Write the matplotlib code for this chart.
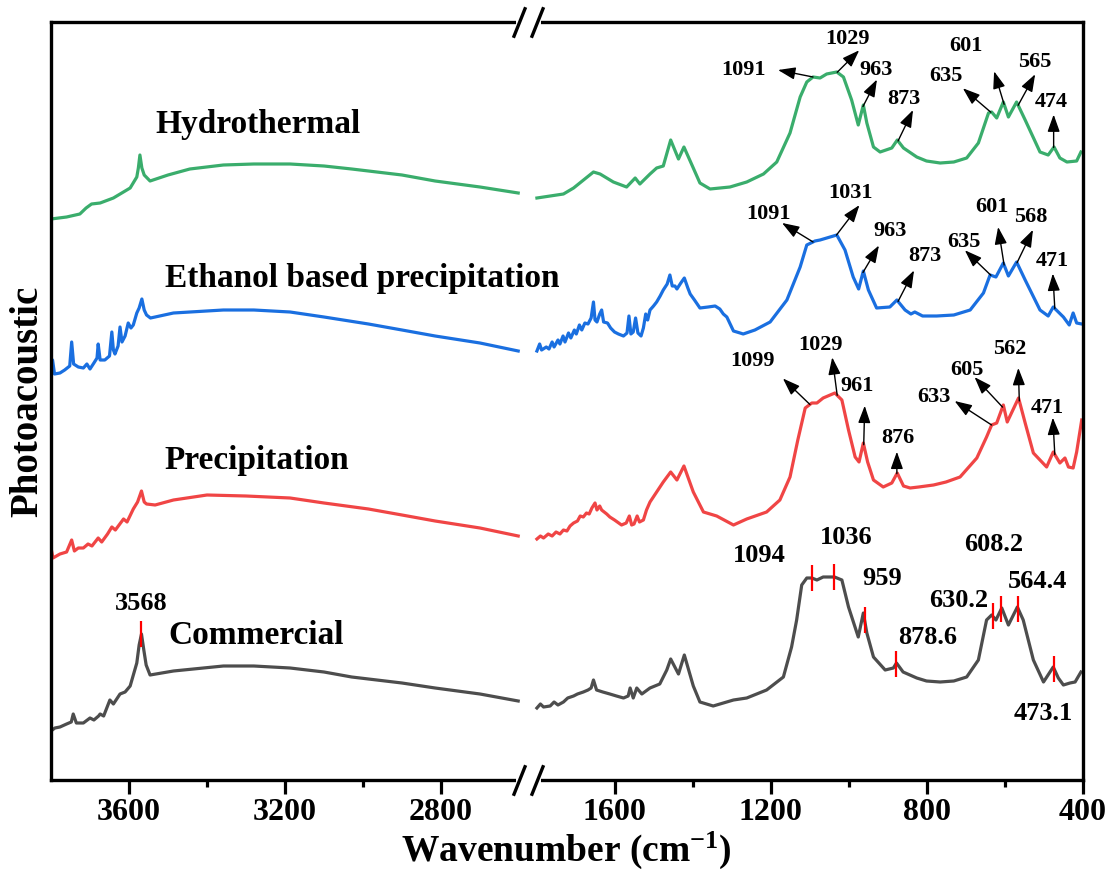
import numpy as np
import matplotlib
matplotlib.use("Agg")
import matplotlib.pyplot as plt
from matplotlib import transforms
from matplotlib.ticker import NullFormatter

plt.rcParams["font.family"] = ["Liberation Serif", "DejaVu Serif"]
plt.rcParams["font.weight"] = "bold"
plt.rcParams["axes.labelweight"] = "bold"
plt.rcParams["mathtext.fontset"] = "custom"
plt.rcParams["mathtext.rm"] = "Liberation Serif:bold"
plt.rcParams["mathtext.bf"] = "Liberation Serif:bold"
plt.rcParams["mathtext.default"] = "bf"

# ---- spectra: wavenumber (cm-1) / photoacoustic signal (a.u.) ----
# Hydrothermal
hyd_hi_wn = [3800, 3760, 3726, 3710, 3696, 3674, 3640, 3597, 3580, 3576, 3572, 3567, 3561, 3546,
             3500, 3444, 3358, 3280, 3187, 3100, 3029, 2900, 2815, 2700, 2602]
hyd_hi_int = [11, 13, 16, 22, 26, 27, 32, 42, 53, 62, 75, 62, 55, 49,
              55, 61, 65, 66, 66, 64, 61, 55, 49, 43, 37]
hyd_lo_wn = [1799, 1731, 1705, 1654, 1637, 1603, 1569, 1547, 1535, 1509, 1492, 1475, 1456, 1436,
             1422, 1406, 1381, 1355, 1304, 1261, 1218, 1184, 1150, 1124, 1107, 1091, 1073, 1056,
             1030, 1013, 992, 975, 962, 953, 936, 919, 889, 875, 859, 825, 800, 765, 730, 697,
             667, 641, 633, 620, 603, 590, 569, 547, 509, 488, 473, 458, 440, 415, 404]
hyd_lo_int = [32, 36, 42, 58, 56, 48, 43, 52, 46, 56, 62, 64, 90, 71,
              83, 69, 47, 41, 43, 48, 56, 68, 97, 133, 148, 153, 152, 156,
              158, 153, 130, 105, 125, 107, 83, 78, 82, 90, 82, 73, 69, 67, 68, 72,
              87, 117, 118, 112, 128, 113, 128, 110, 78, 75, 83, 72, 68, 69, 78]

# Ethanol based precipitation
eth_hi_wn = [3800, 3796, 3791, 3777, 3765, 3752, 3747, 3742, 3730, 3717, 3708, 3700, 3690, 3682,
             3679, 3674, 3662, 3650, 3644, 3640, 3636, 3628, 3623, 3618, 3610, 3602, 3595, 3589,
             3580, 3574, 3567, 3561, 3555, 3545, 3533, 3486, 3358, 3280, 3187, 3100, 2986, 2900,
             2815, 2700, 2602]
eth_hi_int = [5, 20, 6, 7, 10, 14, 38, 16, 13, 12, 16, 11, 17, 22,
              36, 20, 20, 24, 48, 30, 26, 34, 53, 38, 44, 57, 52, 55,
              67, 72, 81, 70, 65, 62, 63, 67, 70, 70, 68, 63, 56, 50,
              44, 37, 29]
eth_lo_wn = [1799, 1792, 1787, 1775, 1768, 1760, 1755, 1745, 1740, 1732, 1727, 1718, 1712, 1703,
             1698, 1690, 1684, 1676, 1668, 1660, 1654, 1650, 1645, 1638, 1633, 1628, 1618, 1610,
             1600, 1590, 1577, 1568, 1563, 1558, 1552, 1546, 1540, 1532, 1526, 1520, 1515, 1509,
             1500, 1492, 1483, 1475, 1465, 1458, 1452, 1445, 1440, 1430, 1421, 1412, 1406, 1395,
             1381, 1360, 1342, 1330, 1321, 1312, 1295, 1278, 1270, 1240, 1201, 1158, 1124, 1107,
             1086, 1073, 1030, 1009, 988, 974, 962, 949, 928, 894, 876, 855, 840, 830, 810, 774,
             730, 688, 654, 637, 622, 603, 590, 569, 547, 509, 488, 475, 449, 434, 424, 415, 402]
eth_lo_int = [29, 36, 30, 33, 31, 38, 33, 40, 36, 44, 38, 47, 42, 50,
              46, 55, 50, 57, 56, 62, 78, 60, 58, 66, 70, 58, 57, 52,
              48, 46, 44, 47, 64, 46, 48, 62, 47, 44, 52, 66, 60, 70,
              74, 78, 84, 90, 96, 105, 94, 94, 91, 97, 102, 92, 86, 80,
              72, 73, 74, 71, 66, 63, 49, 47, 46, 50, 58, 80, 113, 135,
              139, 140, 145, 130, 103, 91, 109, 90, 72, 73, 80, 70, 66, 68, 64, 64,
              65, 70, 87, 105, 103, 117, 104, 118, 100, 70, 64, 73, 63, 55, 67, 57, 56]

# Precipitation
pre_hi_wn = [3800, 3795, 3777, 3760, 3747, 3740, 3730, 3717, 3705, 3695, 3679, 3670, 3655, 3644,
             3635, 3614, 3605, 3589, 3578, 3568, 3561, 3555, 3533, 3486, 3400, 3300, 3187, 3100,
             2986, 2900, 2815, 2700, 2602]
pre_hi_int = [12, 2, 6, 8, 20, 9, 12, 12, 16, 14, 22, 18, 26, 33,
              30, 41, 38, 51, 58, 69, 58, 56, 55, 60, 65, 64, 62, 57,
              51, 45, 39, 32, 24]
pre_lo_wn = [1799, 1790, 1782, 1770, 1760, 1750, 1740, 1731, 1722, 1714, 1705, 1695, 1688, 1680,
             1672, 1665, 1658, 1650, 1645, 1638, 1633, 1620, 1612, 1600, 1582, 1570, 1562, 1556,
             1550, 1542, 1536, 1526, 1518, 1509, 1492, 1475, 1456, 1440, 1422, 1398, 1372, 1338,
             1295, 1261, 1210, 1176, 1150, 1130, 1111, 1094, 1081, 1065, 1035, 1017, 1000, 983,
             973, 962, 951, 936, 911, 889, 875, 859, 842, 820, 782, 750, 714, 671, 646, 633, 620,
             603, 593, 564, 547, 526, 492, 475, 458, 445, 436, 424, 415, 402]
pre_lo_int = [21, 24, 22, 26, 24, 28, 26, 30, 29, 34, 37, 39, 44, 43,
              47, 46, 52, 57, 50, 54, 50, 46, 43, 40, 35, 37, 44, 35,
              36, 44, 38, 40, 50, 58, 68, 78, 88, 80, 94, 68, 48, 44,
              35, 41, 48, 60, 83, 120, 152, 157, 157, 162, 167, 160, 130, 103,
              98, 117, 98, 80, 73, 77, 87, 74, 72, 73, 75, 78, 83, 102, 123, 135, 137,
              155, 138, 162, 137, 107, 93, 108, 97, 102, 93, 92, 108, 140]

# Commercial
com_hi_wn = [3800, 3790, 3777, 3760, 3748, 3743, 3735, 3717, 3700, 3690, 3678, 3674, 3665, 3649,
             3640, 3623, 3610, 3597, 3580, 3574, 3568, 3562, 3556, 3546, 3486, 3358, 3280, 3187,
             3100, 3029, 2900, 2815, 2700, 2602]
com_hi_int = [9, 12, 13, 16, 18, 26, 17, 17, 22, 20, 24, 26, 24, 40,
              36, 46, 48, 54, 77, 95, 106, 90, 75, 65, 69, 74, 74, 72,
              68, 63, 57, 52, 46, 39]
com_lo_wn = [1799, 1790, 1782, 1765, 1755, 1745, 1731, 1720, 1705, 1695, 1680, 1668, 1660, 1654,
             1646, 1630, 1612, 1595, 1577, 1565, 1560, 1552, 1543, 1530, 1509, 1484, 1466, 1456,
             1436, 1421, 1398, 1381, 1347, 1295, 1261, 1210, 1167, 1146, 1133, 1120, 1107, 1094,
             1081, 1065, 1036, 1017, 1000, 975, 962, 953, 936, 906, 885, 877, 860, 825, 800, 765,
             730, 697, 667, 646, 633, 622, 607, 590, 567, 552, 526, 500, 475, 462, 449, 432, 419,
             404]
com_lo_int = [32, 36, 33, 34, 38, 35, 38, 42, 44, 46, 48, 50, 52, 60,
              50, 48, 46, 44, 42, 44, 52, 42, 52, 46, 52, 56, 70, 81,
              66, 85, 54, 38, 34, 40, 42, 50, 63, 93, 120, 155, 162, 162,
              160, 163, 163, 160, 133, 103, 127, 107, 83, 70, 72, 77, 68, 62, 59, 58,
              59, 63, 80, 120, 125, 120, 132, 115, 133, 120, 80, 58, 73, 62, 55, 57, 58,
              68]

names = ["Hydrothermal", "Ethanol based precipitation", "Precipitation", "Commercial"]
colors = ["#3aad6c", "#1a6fe0", "#f04545", "#4d4d4d"]
offsets = [550, 400, 220, 40]

hyd_peaks = [1091, 1029, 963, 873, 635, 601, 565, 474]
eth_peaks = [1091, 1031, 963, 873, 635, 601, 568, 471]
pre_peaks = [1099, 1029, 961, 876, 633, 605, 562, 471]
com_peaks = [3568, 1094, 1036, 959, 878.6, 630.2, 608.2, 564.4, 473.1]
com_labels = ["3568", "1094", "1036", "959", "878.6", "630.2", "608.2", "564.4", "473.1"]

# ---- layout of the peak annotations (pixel offsets from the peak) ----
# (arrow tip dx, dy, text dx, dy)
hyd_place = [(-35, 7, -70, 7), (22, 22, 10, 33), (14, 27, 13, 37), (15, 31, 6, 42),
             (-28, 24, -45, 36), (-10, 33, -38, 58), (17, 31, 17, 43), (0, 33, -2, 46)]
eth_place = [(-31, 19, -45, 28), (23, 30, 14, 42), (16, 27, 27, 41), (16, 31, 27, 45),
             (-26, 25, -27, 33), (-6, 38, -12, 58), (16, 33, 14, 46), (-2, 35, -2, 48)]
pre_place = [(-27, 26, -57, 43), (-5, 38, -17, 50), (1, 39, -7, 59), (0, 22, 1, 36),
             (-37, 24, -58, 28), (-28, 30, -36, 37), (-1, 33, -10, 52), (-2, 37, -7, 47)]
com_place = [(0, 30), (-53, 22), (12, 40), (18, 41), (32, 26), (-34, 16), (-8, 64), (19, 28),
             (-11, -45)]
name_pos = [(3533, 655), (3508, 502), (3510, 320), (3500, 145)]

samples = [
    (hyd_hi_wn, hyd_hi_int, hyd_lo_wn, hyd_lo_int),
    (eth_hi_wn, eth_hi_int, eth_lo_wn, eth_lo_int),
    (pre_hi_wn, pre_hi_int, pre_lo_wn, pre_lo_int),
    (com_hi_wn, com_hi_int, com_lo_wn, com_lo_int),
]

GAP = 45  # width of the axis break, in compressed units


def fwd(w):
    w = np.asarray(w, float)
    return np.where(w <= 1800, w,
                    np.where(w >= 2600, w - 800 + GAP, 1800 + (w - 1800) * GAP / 800))


def inv(u):
    u = np.asarray(u, float)
    return np.where(u <= 1800, u,
                    np.where(u >= 1800 + GAP, u + 800 - GAP, 1800 + (u - 1800) * 800 / GAP))


def signal_at(sample, w):
    hi_wn, hi_int, lo_wn, lo_int = sample
    if w > 2000:
        return np.interp(w, hi_wn[::-1], hi_int[::-1])
    return np.interp(w, lo_wn[::-1], lo_int[::-1])


fig = plt.figure(figsize=(11.13, 8.74), dpi=100)
ax = fig.add_axes([51 / 1113, 1 - 780 / 874, 1031.5 / 1113, 758 / 874])
ax.set_xscale("function", functions=(fwd, inv))

for (hi_wn, hi_int, lo_wn, lo_int), col, off in zip(samples, colors, offsets):
    ax.plot(hi_wn, np.array(hi_int) + off, color=col, lw=2.3, solid_joinstyle="round")
    ax.plot(lo_wn, np.array(lo_int) + off, color=col, lw=2.3, solid_joinstyle="round")

for (nx, ny), name in zip(name_pos, names):
    ax.text(nx, ny, name, fontsize=24, ha="left", va="center")

arrow = dict(arrowstyle="<|-,head_length=0.7,head_width=0.25", color="black", lw=1.0,
             shrinkA=0, shrinkB=0, mutation_scale=15)
for k, (peaks, place) in enumerate([(hyd_peaks, hyd_place), (eth_peaks, eth_place),
                                    (pre_peaks, pre_place)]):
    for p, (adx, ady, tdx, tdy) in zip(peaks, place):
        y0 = signal_at(samples[k], p) + offsets[k]
        ax.annotate("", xy=(p, y0), xytext=(adx, ady), textcoords="offset pixels",
                    arrowprops=arrow)
        ax.annotate(str(p), xy=(p, y0), xytext=(tdx, tdy), textcoords="offset pixels",
                    ha="center", va="center", fontsize=16)

for p, lbl, (tdx, tdy) in zip(com_peaks, com_labels, com_place):
    y0 = signal_at(samples[3], p) + offsets[3]
    ax.vlines(p, y0 - 13, y0 + 13, colors="red", lw=1.6, zorder=4)
    ax.annotate(lbl, xy=(p, y0), xytext=(tdx, tdy), textcoords="offset pixels",
                ha="center", va="center", fontsize=19)

# axis break marks
blend = transforms.blended_transform_factory(ax.transData, ax.transAxes)
for yy in (0, 1):
    ax.plot([2600, 1800], [yy, yy], transform=blend, color="white", lw=5,
            clip_on=False, zorder=5)
    ax.plot([2600, 1800], [yy, yy], transform=blend, ls="none",
            marker=[(-0.4, -1), (0.4, 1)], ms=22, mew=2.4, mec="black",
            clip_on=False, zorder=6)

ax.set_xlim(3800, 400)
ax.set_ylim(0, 758)
ax.set_xticks([3600, 3200, 2800, 1600, 1200, 800, 400],
              ["3600", "3200", "2800", "1600", "1200", "800", "400"])
ax.set_xticks([3400, 3000, 1400, 1000, 600], minor=True)
ax.xaxis.set_minor_formatter(NullFormatter())
ax.set_yticks([])
ax.tick_params(axis="x", which="major", direction="out", length=10, width=2.3,
               labelsize=23, pad=3)
ax.tick_params(axis="x", which="minor", direction="out", length=5, width=2.3)
for s in ax.spines.values():
    s.set_linewidth(2.4)

ax.set_xlabel("Wavenumber (cm$^{-1}$)", fontsize=27, fontweight="bold")
ax.xaxis.set_label_coords(0.5, -0.066)
ax.set_ylabel("Photoacoustic", fontsize=28, fontweight="bold")
ax.yaxis.set_label_coords(-0.004, 0.5)

fig.savefig("out.png", dpi=100)
